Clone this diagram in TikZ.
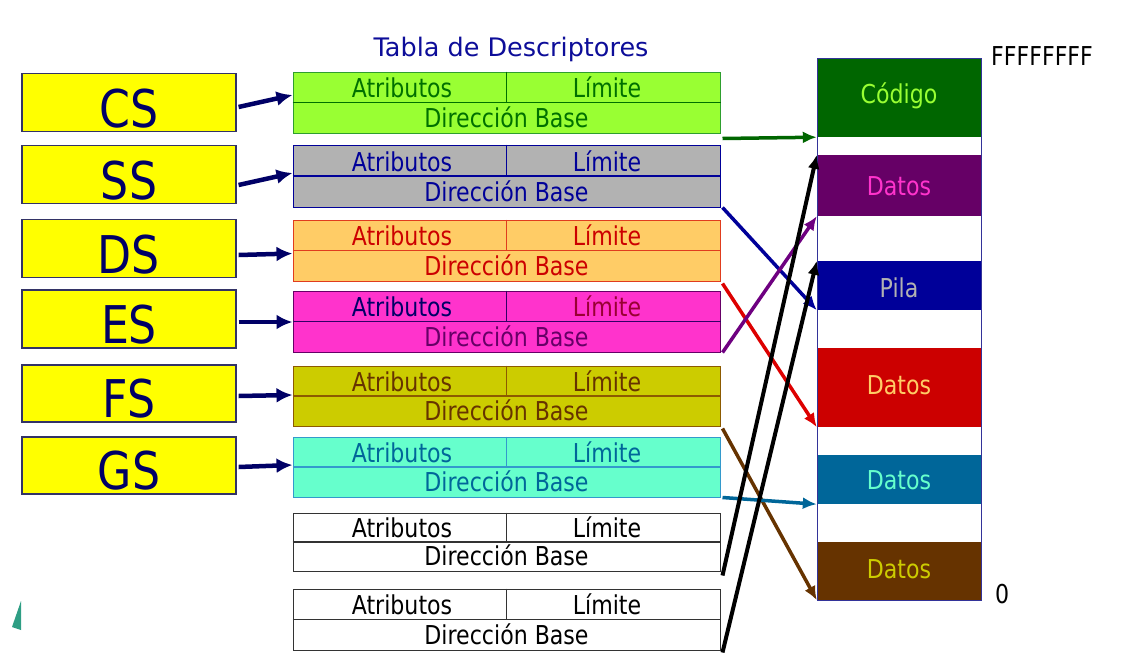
\documentclass[tikz,border=0pt]{standalone}
\usepackage{fontspec}
\usetikzlibrary{arrows.meta,calc}

\newfontfamily\dvsans{DejaVu Sans}
\newfontfamily\dvnarrow[FakeStretch=0.85]{DejaVu Sans}
\newcommand\regfont{\dvnarrow\fontsize{52}{52}\selectfont}
\newcommand\cellfont{\dvnarrow\fontsize{26}{26}\selectfont}
\newcommand\titlefont{\dvsans\fontsize{25.5}{25.5}\selectfont}

% register and memory colours
\definecolor{regline}{HTML}{333366}
\definecolor{navytext}{HTML}{000066}
\definecolor{titlecol}{HTML}{0D0D99}
\definecolor{memline}{HTML}{333399}
\definecolor{regfill}{HTML}{FFFF00}
% descriptor colours
\definecolor{fA}{HTML}{99FF33}\definecolor{lA}{HTML}{2E9E2E}\definecolor{tA}{HTML}{007000}
\definecolor{fB}{HTML}{B2B2B2}\definecolor{lB}{HTML}{000099}
\definecolor{fC}{HTML}{FFCC66}\definecolor{lC}{HTML}{E03C1E}\definecolor{tC}{HTML}{CC0000}
\definecolor{fD}{HTML}{FF33CC}\definecolor{lD}{HTML}{660066}\definecolor{dD}{HTML}{330066}
\definecolor{aD}{HTML}{000066}\definecolor{bD}{HTML}{990033}
\definecolor{fE}{HTML}{CCCC00}\definecolor{lE}{HTML}{8C5A00}\definecolor{tE}{HTML}{663300}
\definecolor{fF}{HTML}{66FFCC}\definecolor{lF}{HTML}{3399CC}\definecolor{tF}{HTML}{006699}
\definecolor{lG}{HTML}{333333}
% memory segment colours
\definecolor{mA}{HTML}{006600}\definecolor{mAt}{HTML}{99FF33}
\definecolor{mB}{HTML}{660066}\definecolor{mBt}{HTML}{FF33CC}
\definecolor{mC}{HTML}{000099}\definecolor{mCt}{HTML}{B2B2B2}
\definecolor{mD}{HTML}{CC0000}\definecolor{mDt}{HTML}{FFCC66}
\definecolor{mE}{HTML}{006699}\definecolor{mEt}{HTML}{66FFCC}
\definecolor{mF}{HTML}{663300}\definecolor{mFt}{HTML}{CCCC00}
\definecolor{purplelink}{HTML}{6E0080}
\definecolor{redlink}{HTML}{DD0000}
\definecolor{shard}{HTML}{2E9E84}

\begin{document}
\begin{tikzpicture}[x=1pt,y=-1pt,
  regbox/.style={draw=regline,line width=1.2pt,fill=regfill,minimum width=214pt,inner sep=0pt},
  reglabel/.style={font=\regfont,text=navytext,anchor=base,inner sep=0pt},
  descbox/.style={line width=1pt,minimum width=427pt,inner sep=0pt},
  cell/.style={font=\cellfont,anchor=base,inner sep=0pt},
  memblock/.style={minimum width=164pt,inner sep=0pt,draw=none},
  memlabel/.style={font=\cellfont,anchor=base,inner sep=0pt},
  feed/.style={line width=4.5pt,draw=navytext,-{Latex[length=16pt,width=15pt]}},
  link/.style={line width=3.5pt,-{Latex[length=14pt,width=12pt]}},
]
\useasboundingbox (0,0) rectangle (1124,664);

% small shard in the lower left corner
\fill[shard] (21,601) -- (12,627) -- (21,630) -- cycle;

% title
\node[font=\titlefont,text=titlecol,anchor=base,inner sep=0pt] (title) at (511,56) {Tabla de Descriptores};

% descriptor table: index/centre/height/fill/border/divider/attr/limit/base colours
\foreach \i/\c/\h/\fc/\lc/\dc/\ca/\cl/\cb in {
  1/102.5/61/fA/lA/tA/tA/tA/tA,
  2/176/62/fB/lB/lB/lB/lB/lB,
  3/250.5/61/fC/lC/lC/tC/tC/tC,
  4/321.5/61/fD/lD/dD/aD/bD/lD,
  5/396/60/fE/lE/lE/tE/tE/tE,
  6/467/60/fF/lF/lF/tF/tF/tF,
  7/542/58/white/lG/lG/black/black/black,
  8/619.5/61/white/lG/lG/black/black/black}{
  \node[descbox,fill=\fc,draw=\lc,minimum height=\h pt] (d\i) at (506.5,\c) {};
  \draw[\dc,line width=1.5pt] (d\i.west) -- (d\i.east);
  \draw[\dc,line width=1pt] (d\i.north) -- (d\i.center);
  \node[cell,text=\ca] (a\i) at ($(d\i.center)+(-104.5,-5)$) {Atributos};
  \node[cell,text=\cl] (l\i) at ($(d\i.center)+(100.5,-5)$) {Límite};
  \node[cell,text=\cb] (b\i) at ($(d\i.south)+(0,-6)$) {Dirección Base};
}

% segment registers with their arrows into the table
\foreach \i/\t/\c/\h/\ty/\hy in {
  1/CS/102.5/58/4.5/-7.5,
  2/SS/174.5/58/10.5/-3,
  3/DS/248.5/58/6.5/3,
  4/ES/319/58/3/0.5,
  5/FS/393.5/57/2.5/-1,
  6/GS/465.5/57/1.5/-2}{
  \node[regbox,minimum height=\h pt] (r\i) at (129,\c) {};
  \node[reglabel] (rl\i) at ($(r\i.south)+(0,-5)$) {\t};
  \draw[feed] ($(r\i.east)+(2,\ty)$) -- ($(d\i.west)+(0,\hy)$);
}

% linear memory with its segments
\foreach \i/\c/\h/\fc in {1/97.5/79/mA, 2/185.5/61/mB, 3/285.5/49/mC,
                          4/387.5/79/mD, 5/479.5/49/mE, 6/571/58/mF}{
  \node[memblock,fill=\fc,minimum height=\h pt] (m\i) at (899,\c) {};
}
\node[draw=memline,line width=0.8pt,minimum width=164pt,minimum height=542pt,inner sep=0pt] (mem) at (899,329) {};
\foreach \i/\t/\b/\tc in {1/Código/103/mAt, 2/Datos/195/mBt, 3/Pila/297/mCt,
                          4/Datos/394/mDt, 5/Datos/489/mEt, 6/Datos/578/mFt}{
  \node[memlabel,text=\tc] (ml\i) at (899,\b) {\t};
}
\node[font=\cellfont,anchor=base west,inner sep=0pt] (top) at (991,65) {FFFFFFFF};
\node[font=\cellfont,anchor=base west,inner sep=0pt] (bottom) at (995,603) {0};

% base addresses pointing into memory
\draw[link,mA] ($(d1.south east)+(2,5)$) -- (m1.south west);
\draw[link,lB] ($(d2.south east)+(2,0)$) -- (m3.south west);
\draw[link,redlink] ($(d3.south east)+(2,2)$) -- (m4.south west);
\draw[link,purplelink] ($(d4.south east)+(2,0)$) -- (m2.south west);
\draw[link,mF] ($(d5.south east)+(2,2)$) -- (m6.south west);
\draw[link,mE] ($(d6.south east)+(2,0)$) -- (m5.south west);
\draw[link,black,line width=4pt] ($(d7.south east)+(2,4)$) -- (m2.north west);
\draw[link,black,line width=4pt] ($(d8.south east)+(2,2)$) -- (m3.north west);
\end{tikzpicture}
\end{document}
